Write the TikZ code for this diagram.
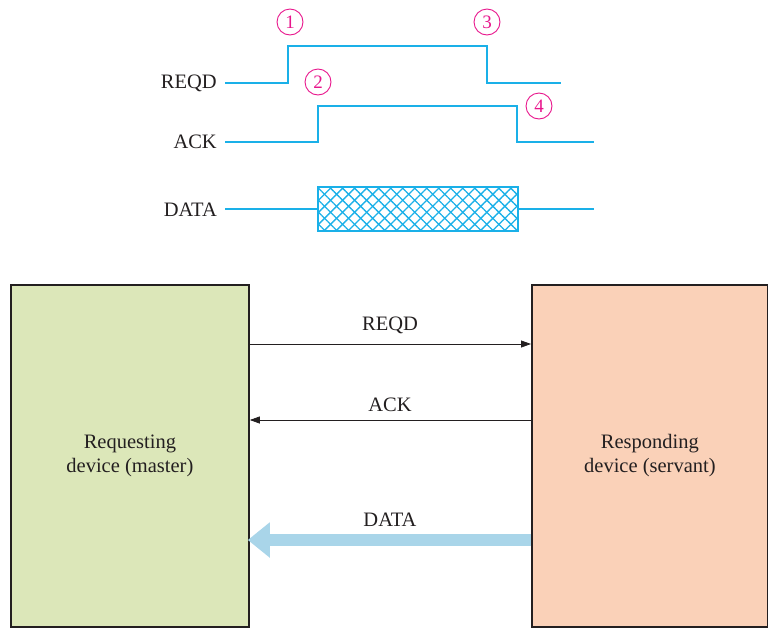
\documentclass[tikz,border=0pt]{standalone}
\usepackage{fontspec}
\setmainfont{Liberation Serif}
\usetikzlibrary{patterns.meta,arrows.meta}
\definecolor{sig}{HTML}{1AB0E8}
\definecolor{mag}{HTML}{E8168C}
\definecolor{grn}{HTML}{DCE7B9}
\definecolor{org}{HTML}{FAD1B8}
\definecolor{dblue}{HTML}{A9D5E9}
\definecolor{ink}{HTML}{231F20}
\tikzset{
  wave/.style={draw=sig, line width=2.6pt},
  lbl/.style={font=\fontsize{20.5}{24}\selectfont, text=ink, inner sep=0pt},
  num/.style={circle, draw=mag, line width=0.9pt, text=mag, minimum size=26pt, inner sep=0pt, font=\fontsize{19}{19}\selectfont},
  dev/.style={draw=ink, line width=1.8pt, minimum width=238pt, minimum height=342pt, inner sep=0pt, align=center, font=\fontsize{20.5}{24}\selectfont, text=ink},
  sigarrow/.style={draw=ink, line width=0.8pt, -{Triangle[length=10pt,width=7pt]}},
  bigarrow/.style={draw=dblue, line width=12pt, -{Triangle[length=22pt,width=34pt]}, shorten >=-2pt}
}
\begin{document}
\begin{tikzpicture}[x=1pt,y=-1pt]
\useasboundingbox (0,0) rectangle (768,627);
% timing labels
\node[lbl, anchor=east] (lreqd) at (217,83) {REQD};
\node[lbl, anchor=east] (lack) at (217,142) {ACK};
\node[lbl, anchor=east] (ldata) at (217,210) {DATA};
% waveforms
\draw[wave] (225,83) -- (288,83) -- (288,46) -- (487,46) -- (487,83) -- (561,83);
\draw[wave] (225,142) -- (318,142) -- (318,106) -- (517,106) -- (517,142) -- (594,142);
\draw[wave] (225,209) -- (318,209);
\draw[wave] (518,209) -- (594,209);
\fill[pattern={Lines[angle=45,distance=8.5pt,line width=1.3pt]}, pattern color=sig] (318,187) rectangle (518,231);
\fill[pattern={Lines[angle=-45,distance=8.5pt,line width=1.3pt]}, pattern color=sig] (318,187) rectangle (518,231);
\draw[sig, line width=2.4pt] (318,187) rectangle (518,231);
% numbered events
\node[num] (n1) at (290,22) {1};
\node[num] (n2) at (318,82) {2};
\node[num] (n3) at (487,22) {3};
\node[num] (n4) at (539,106) {4};
% devices
\node[dev, fill=grn, anchor=north west] (master) at (10,284) {Requesting\\device (master)};
\node[dev, fill=org, anchor=north west, minimum width=236pt] (servant) at (531,284) {Responding\\device (servant)};
% connectors
\coordinate (r1) at (master.north east |- 0,344);
\coordinate (r2) at (servant.north west |- 0,344);
\coordinate (a1) at (servant.north west |- 0,420);
\coordinate (a2) at (master.north east |- 0,420);
\coordinate (d1) at (servant.north west |- 0,540);
\coordinate (d2) at (master.north east |- 0,540);
\draw[sigarrow] (r1) -- (r2);
\draw[sigarrow] (a1) -- (a2);
\draw[bigarrow] (d1) -- (d2);
\node[lbl] (treqd) at (390,325) {REQD};
\node[lbl] (tack) at (390,405) {ACK};
\node[lbl] (tdata) at (390,520) {DATA};
\end{tikzpicture}
\end{document}
